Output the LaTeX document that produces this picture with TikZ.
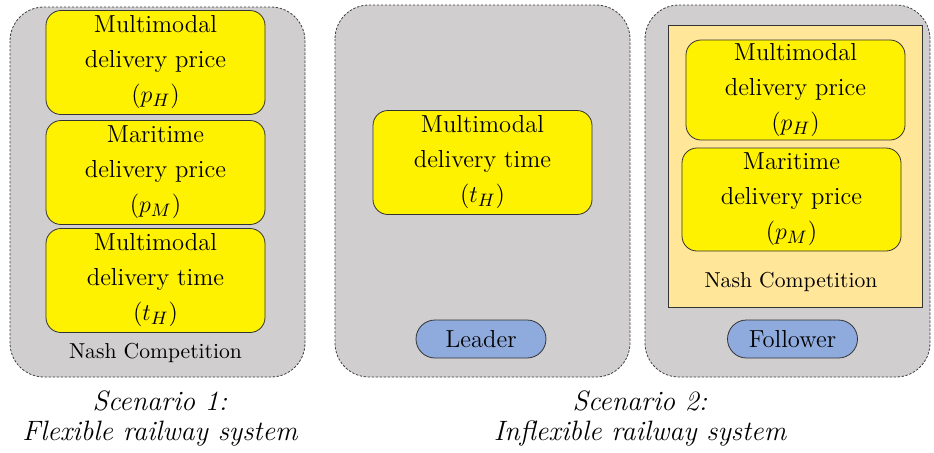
\documentclass[tikz,border=0pt]{standalone}
\begin{document}
\begin{tikzpicture}[x=0.5pt, y=-0.5pt,
    panel/.style={draw=black!75, dash pattern=on 1.2pt off 0.8pt, fill=panelgray, rounded corners=17pt},
    var/.style={draw=black!80, fill=yellow, rounded corners=7.5pt, align=center,
        minimum width=109.5pt, minimum height=52pt, inner sep=0pt,
        font=\fontsize{12.3}{17.5}\selectfont},
    role/.style={draw=black!80, fill=roleblue, rounded corners=9.5pt,
        minimum width=65pt, minimum height=19pt, inner sep=0pt,
        font=\fontsize{12.3}{16}\selectfont},
    tag/.style={font=\fontsize{10.8}{14}\selectfont},
    caption/.style={align=center, font=\fontsize{14}{15}\selectfont\itshape}]
    \definecolor{panelgray}{HTML}{D0CECE}
    \definecolor{roleblue}{HTML}{8FAADC}
    \definecolor{nashorange}{HTML}{FFE699}
    \useasboundingbox (0,0) rectangle (934,452);

    % scenario 1
    \draw[panel] (10,7) rectangle (305,377);
    \node[var] (ph1) at (155.5,62.5) {Multimodal\\delivery price\\($p_H$)};
    \node[var] (pm1) at (155.5,172.5) {Maritime\\delivery price\\($p_M$)};
    \node[var] (th1) at (155.5,280.5) {Multimodal\\delivery time\\($t_H$)};
    \node[tag] (nash1) at (155.5,353) {Nash Competition};

    % scenario 2, leader side
    \draw[panel] (335,5) rectangle (630,377);
    \node[var] (th2) at (482.5,162.5) {Multimodal\\delivery time\\($t_H$)};
    \node[role] (leader) at (481,339) {Leader};

    % scenario 2, follower side
    \draw[panel] (645,5) rectangle (930,377);
    \draw[draw=black!80, fill=nashorange] (668,25) rectangle (922,307);
    \node[var, minimum height=50pt] (ph2) at (795.5,90) {Multimodal\\delivery price\\($p_H$)};
    \node[var, minimum height=51.5pt] (pm2) at (791.5,199.5) {Maritime\\delivery price\\($p_M$)};
    \node[tag] (nash2) at (791,282) {Nash Competition};
    \node[role] (follower) at (792.5,339) {Follower};

    % captions
    \node[caption] (cap1) at (160,418) {Scenario 1:\\Flexible railway system};
    \node[caption] (cap2) at (640,418) {Scenario 2:\\Inflexible railway system};
\end{tikzpicture}
\end{document}
